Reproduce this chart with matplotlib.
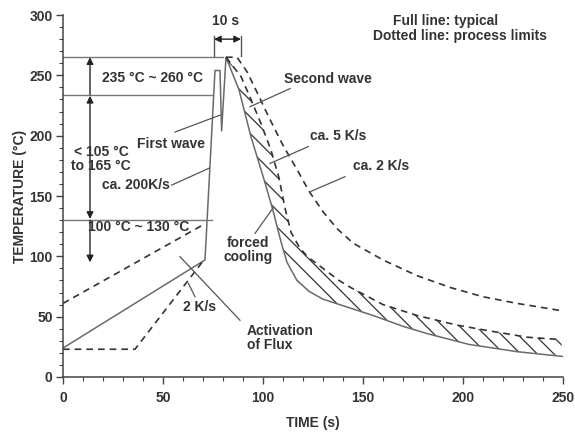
import matplotlib
matplotlib.use('Agg')
import matplotlib.pyplot as plt
import numpy as np

plt.rcParams['font.family'] = ['Liberation Sans', 'DejaVu Sans']
plt.rcParams['hatch.linewidth'] = 0.9

# ---- data ----
# typical profile (full line)
typ_t = [0, 71, 76, 78.5, 79.3, 81.5, 88, 94, 101, 105, 109, 112, 117, 123, 130, 142, 155, 170, 182, 203, 227, 250]
typ_T = [24, 97, 254, 254, 204, 265, 238, 199, 161, 138, 112, 95, 80, 71, 64.5, 58, 51, 42, 36, 27, 21, 17]

# process limits (dotted lines)
pre_hi_t = [0, 71]
pre_hi_T = [61, 127]
pre_lo_t = [0, 36, 70]
pre_lo_T = [23, 23, 96]

cool5_t = [81.5, 89, 94, 99, 104, 108, 111, 114, 118, 122, 130, 138, 144, 160, 177, 197, 214, 232, 249]
cool5_T = [265, 249, 230, 210, 188, 165, 140, 120, 108, 100, 90, 80, 74, 60, 51, 43, 38, 33, 31]

cool2_t = [81.5, 87, 92, 97, 103, 110, 117, 123, 130, 137, 145, 160, 177, 194, 210, 227, 249]
cool2_T = [265, 265, 253, 236, 215, 192, 172, 154, 137, 123, 111, 97, 84, 74, 66.5, 61, 55]

x_ticks = [0, 50, 100, 150, 200, 250]
y_ticks = [0, 50, 100, 150, 200, 250, 300]

# reference levels
lvl_top, lvl_mid, lvl_low = 265, 234, 130

TXT = '#333333'
LINE = '#6a6a6a'
DASH = '#333333'

fig = plt.figure(figsize=(5.75, 4.32), dpi=100)
ax = fig.add_axes([63/575, 55/432, 500/575, 362/432])
ax.set_xlim(0, 250)
ax.set_ylim(0, 300)
for s in ['top', 'right']:
    ax.spines[s].set_visible(False)
for s in ['left', 'bottom']:
    ax.spines[s].set_color('#444444')
    ax.spines[s].set_linewidth(1.1)

ax.set_xticks(x_ticks)
ax.set_yticks(y_ticks)
ax.set_xticks(np.arange(0, 251, 10), minor=True)
ax.set_yticks(np.arange(0, 301, 10), minor=True)
ax.tick_params(which='major', length=5, width=1, color='#444444', labelsize=10,
               labelcolor=TXT, direction='out')
ax.tick_params(which='minor', length=3, width=0.8, color='#444444', direction='out')
ax.tick_params(axis='y', pad=2.5)
ax.tick_params(axis='x', pad=5)
for lab in ax.get_xticklabels() + ax.get_yticklabels():
    lab.set_fontweight('bold')

ax.set_xlabel('TIME (s)', fontsize=10, fontweight='bold', color=TXT, labelpad=8)
ax.set_ylabel('TEMPERATURE (°C)', fontsize=10, fontweight='bold', color=TXT, labelpad=1.5)

# hatched band between typical and 5 K/s limit
i_peak = typ_t.index(81.5)
band_x = cool5_t + typ_t[i_peak:][::-1]
band_y = cool5_T + typ_T[i_peak:][::-1]
ax.fill(band_x, band_y, facecolor='none', edgecolor='#333333', hatch='\\\\', linewidth=0)

dash = (0, (4, 3))
ax.plot(typ_t, typ_T, color=LINE, lw=1.1)
ax.plot(pre_hi_t, pre_hi_T, color=DASH, lw=1.2, ls=dash)
ax.plot(pre_lo_t, pre_lo_T, color=DASH, lw=1.2, ls=dash)
ax.plot(cool5_t, cool5_T, color=DASH, lw=1.2, ls=dash)
ax.plot(cool2_t, cool2_T, color=DASH, lw=1.2, ls=dash)

# reference level lines
ax.plot([0, 80], [lvl_top, lvl_top], color='#777777', lw=1)
ax.plot([0, 74.3], [lvl_mid, lvl_mid], color='#777777', lw=1)
ax.plot([0, 74.3], [lvl_low, lvl_low], color='#777777', lw=1)

ap = dict(color='#222222', lw=1, mutation_scale=10, shrinkA=0, shrinkB=0)
ax.annotate('', xy=(13.5, lvl_top), xytext=(13.5, lvl_mid), arrowprops=dict(arrowstyle='-|>', **ap))
ax.annotate('', xy=(13.5, lvl_mid - 1), xytext=(13.5, lvl_low + 1), arrowprops=dict(arrowstyle='<|-|>', **ap))
ax.annotate('', xy=(13.5, 95), xytext=(13.5, lvl_low), arrowprops=dict(arrowstyle='-|>', **ap))

# 10 s marker
ax.plot([75.5, 75.5], [266, 283], color='#555555', lw=1)
ax.plot([89, 89], [266, 283], color='#555555', lw=1)
ax.annotate('', xy=(75.5, 280), xytext=(89, 280), arrowprops=dict(arrowstyle='<|-|>', **ap))

# pointer lines
pointers = [
    ((56, 203), (78.5, 217)),
    ((54.3, 159), (73, 173)),
    ((113.5, 239), (93.5, 224)),
    ((122.7, 191), (103.5, 177)),
    ((141, 166), (123.5, 153.5)),
    ((96, 119), (105, 140)),
    ((88.5, 47), (58.5, 99.7)),
    ((66, 66.5), (62.7, 77.6)),
]
for (x1, y1), (x2, y2) in pointers:
    ax.plot([x1, x2], [y1, y2], color='#555555', lw=0.9)

tk = dict(fontsize=10, fontweight='bold', color=TXT)
ax.text(81.5, 295, '10 s', ha='center', va='center', **tk)
ax.text(165, 295, 'Full line: typical', ha='left', va='center', **tk)
ax.text(155, 283, 'Dotted line: process limits', ha='left', va='center', **tk)
ax.text(44.5, 248, '235 °C ~ 260 °C', ha='center', va='center', **tk)
ax.text(19, 180.5, '< 105 °C\nto 165 °C', ha='center', va='center', linespacing=1.05, **tk)
ax.text(36.4, 159, 'ca. 200K/s', ha='center', va='center', **tk)
ax.text(54, 193, 'First wave', ha='center', va='center', **tk)
ax.text(132.5, 247.3, 'Second wave', ha='center', va='center', **tk)
ax.text(137.7, 199.7, 'ca. 5 K/s', ha='center', va='center', **tk)
ax.text(159, 174.8, 'ca. 2 K/s', ha='center', va='center', **tk)
ax.text(92.5, 105, 'forced\ncooling', ha='center', va='center', linespacing=1.0, **tk)
ax.text(92, 32.7, 'Activation\nof Flux', ha='left', va='center', linespacing=1.0, **tk)
ax.text(68.5, 57.7, '2 K/s', ha='center', va='center', **tk)
ax.text(38, 124, '100 °C ~ 130 °C', ha='center', va='center', **tk)

fig.savefig('out.png', dpi=100)
